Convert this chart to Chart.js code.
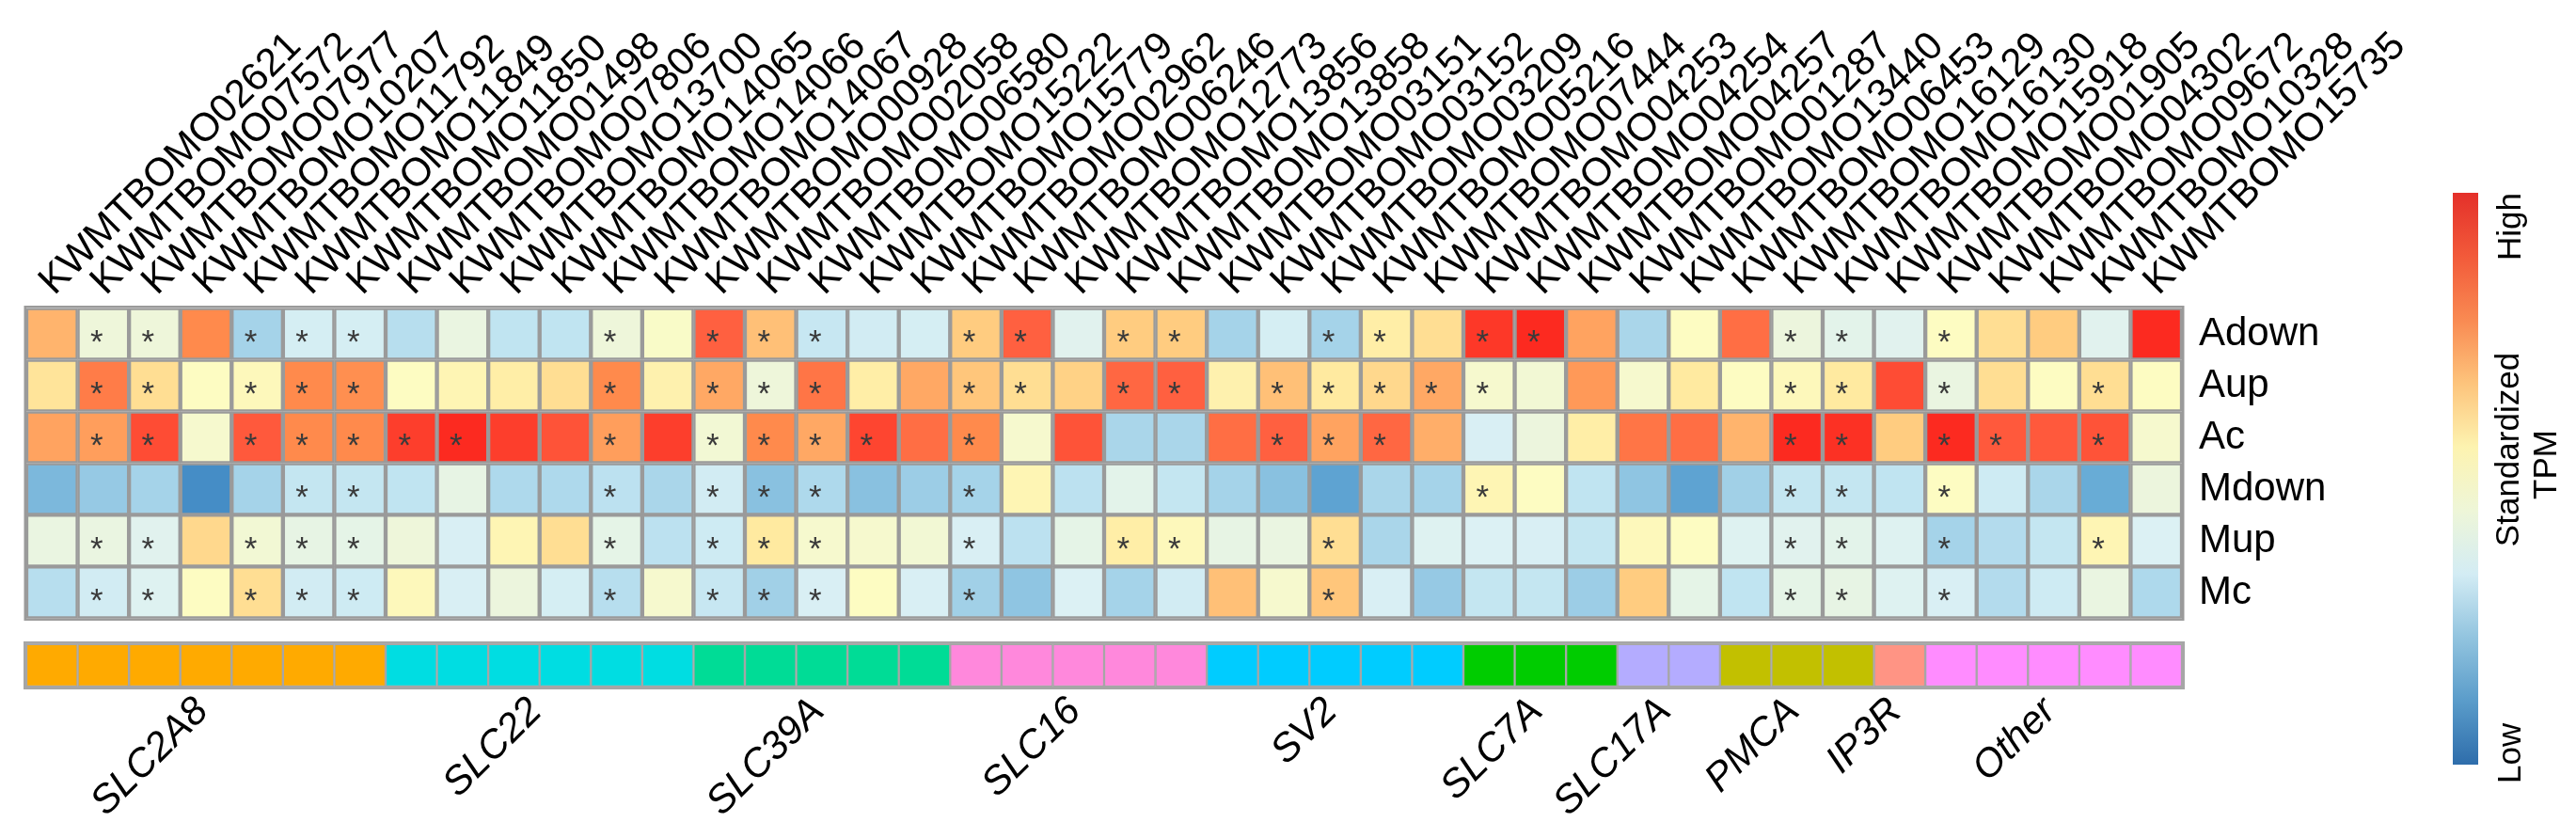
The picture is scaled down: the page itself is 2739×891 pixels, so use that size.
<!DOCTYPE html>
<html>
<head>
<meta charset="utf-8">
<script src="https://cdn.jsdelivr.net/npm/chart.js@4.4.1/dist/chart.umd.min.js"></script>
<style>
  html, body { margin: 0; padding: 0; background: #fff; }
  #wrap { width: 2739px; height: 891px; position: relative; }
</style>
</head>
<body>
<div id="wrap"><canvas id="heat"></canvas></div>
<script>
// gene ids (columns)
const genes = ['02621','07572','07977','10207','11792','11849','11850','01498','07806','13700',
  '14065','14066','14067','00928','02058','06580','15222','15779','02962','06246',
  '12773','13856','13858','03151','03152','03209','05216','07444','04253','04254',
  '04257','01287','13440','06453','16129','16130','15918','01905','04302','09672',
  '10328','15735'].map(n => 'KWMTBOMO' + n);

const rowNames = ['Adown', 'Aup', 'Ac', 'Mdown', 'Mup', 'Mc'];

// standardized TPM
const adown = [0.9,0,0,1.3,-1.1,-0.5,-0.5,-0.9,-0.1,-0.8,-0.8,0,0.15,1.6,0.8,-0.7,-0.55,-0.5,0.7,1.6,
  -0.3,0.7,0.7,-1.1,-0.5,-1.1,0.4,0.55,1.9,2.0,1.05,-1.05,0.2,1.5,-0.05,-0.25,-0.3,0.2,0.55,0.7,-0.3,2.0];
const aup = [0.5,1.4,0.55,0.2,0.25,1.3,1.25,0.2,0.3,0.4,0.55,1.3,0.35,1.0,0,1.45,0.4,1.0,0.75,0.55,
  0.65,1.55,1.6,0.35,0.8,0.45,0.6,1.0,0.1,0.05,1.15,0.1,0.45,0.2,0.25,0.45,1.75,-0.1,0.55,0.2,0.55,0.2];
const ac = [1.05,1.1,1.75,0.1,1.65,1.3,1.3,1.85,2.0,1.85,1.7,1.1,1.85,0.05,1.3,1.0,1.8,1.5,1.3,0.1,
  1.7,-1.05,-1.05,1.5,1.6,1.05,1.55,0.95,-0.45,-0.05,0.4,1.45,1.5,0.9,2.0,1.95,0.7,2.0,1.65,1.65,1.7,0.1];
const mdown = [-1.45,-1.25,-1.1,-1.95,-1.1,-0.75,-0.75,-0.8,-0.15,-1.0,-1.0,-0.85,-1.05,-0.55,-1.35,-1.0,-1.35,-1.2,-1.1,0.3,
  -0.85,-0.25,-0.75,-1.1,-1.35,-1.7,-1.05,-1.1,0.3,0.2,-0.8,-1.3,-1.7,-1.15,-0.75,-0.75,-0.8,0.2,-0.6,-1.05,-1.6,-0.05];
const mup = [-0.1,-0.1,-0.3,0.6,0.05,-0.15,-0.2,0,-0.45,0.3,0.55,-0.2,-0.85,-0.6,0.45,0.1,0.1,0.05,-0.45,-0.85,
  -0.2,0.4,0.25,-0.15,-0.1,0.55,-1.05,-0.35,-0.4,-0.45,-0.75,0.25,0.2,-0.35,-0.3,-0.25,-0.35,-1.1,-0.95,-0.75,0.3,-0.4];
const mc = [-0.9,-0.55,-0.35,0.2,0.55,-0.55,-0.6,0.25,-0.45,-0.05,-0.5,-0.9,0.1,-0.7,-1.15,-0.45,0.2,-0.45,-1.15,-1.3,
  -0.4,-1.1,-0.55,0.8,0.1,0.75,-0.45,-1.25,-0.75,-0.75,-1.2,0.7,-0.2,-0.8,-0.2,-0.15,-0.35,-0.45,-0.95,-0.6,-0.1,-1.0];

// columns (1-based) marked with *
const starAdown = [2,3,5,6,7,12,14,15,16,19,20,22,23,26,27,29,30,35,36,38];
const starAup = [2,3,5,6,7,12,14,15,16,19,20,22,23,25,26,27,28,29,35,36,38,41];
const starAc = [2,3,5,6,7,8,9,12,14,15,16,17,19,25,26,27,35,36,38,39,41];
const starMdown = [6,7,12,14,15,16,19,29,35,36,38];
const starMup = [2,3,5,6,7,12,14,15,16,19,22,23,26,35,36,38,41];
const starMc = [2,3,5,6,7,12,14,15,16,19,26,35,36,38];

const groupNames = ['SLC2A8', 'SLC22', 'SLC39A', 'SLC16', 'SV2', 'SLC7A', 'SLC17A', 'PMCA', 'IP3R', 'Other'];
const groupSizes = [7, 6, 5, 5, 5, 3, 2, 3, 1, 5];
const groupColors = ['#ffaa00', '#00dde2', '#00dc96', '#ff88dc', '#00ccff', '#00cc00', '#b4acff', '#c2c000', '#ff9484', '#ff8cff'];

// colour scale
const stops = [
  [-2.0, '#4089c4'], [-1.6, '#68acd6'], [-1.2, '#9ccde6'], [-0.8, '#c0e4f1'],
  [-0.4, '#dcf1f4'], [0.0, '#eef6da'], [0.2, '#fdfcc2'], [0.45, '#ffeaa0'],
  [0.7, '#ffcc80'], [1.0, '#ffa864'], [1.3, '#ff8a4c'], [1.6, '#ff6040'], [2.0, '#fc2a20']
];
function hexRgb(h) {
  return [parseInt(h.slice(1, 3), 16), parseInt(h.slice(3, 5), 16), parseInt(h.slice(5, 7), 16)];
}
function heatColor(v) {
  if (v <= stops[0][0]) return stops[0][1];
  for (let i = 1; i < stops.length; i++) {
    if (v <= stops[i][0]) {
      const t = (v - stops[i - 1][0]) / (stops[i][0] - stops[i - 1][0]);
      const a = hexRgb(stops[i - 1][1]), b = hexRgb(stops[i][1]);
      const c = a.map((x, k) => Math.round(x + (b[k] - x) * t));
      return 'rgb(' + c.join(',') + ')';
    }
  }
  return stops[stops.length - 1][1];
}

const heatRows = [adown, aup, ac, mdown, mup, mc];
const starRows = [starAdown, starAup, starAc, starMdown, starMup, starMc];

const colGroup = [];
const groupCenters = [];
let start = 0;
groupSizes.forEach((n, g) => {
  for (let i = 0; i < n; i++) colGroup.push(g);
  groupCenters.push(start + (n - 1) / 2);
  start += n;
});

const GAP = 0.5, GROUP_H = 0.82;
const Y_MAX = heatRows.length + GAP + GROUP_H;

const datasets = heatRows.map((vals, r) => ({
  label: rowNames[r],
  data: genes.map(() => 1),
  backgroundColor: vals.map(heatColor),
  borderColor: '#9a9a9a',
  borderWidth: 2.5,
  borderSkipped: false
}));
datasets.push({ label: 'gap', data: genes.map(() => GAP), backgroundColor: 'rgba(0,0,0,0)', borderWidth: 0 });
datasets.push({
  label: 'group',
  data: genes.map(() => GROUP_H),
  backgroundColor: colGroup.map(g => groupColors[g]),
  borderColor: '#a6a6a6',
  borderWidth: 1.5,
  borderSkipped: false
});

const FONT = '"Liberation Sans", Arial, sans-serif';
Chart.defaults.font.family = FONT;
Chart.defaults.color = '#000';

function extent(meta) {
  const d = meta.data;
  const f = d[0], l = d[d.length - 1];
  return {
    left: f.x - f.width / 2, right: l.x + l.width / 2,
    top: Math.min(f.y, f.base), bottom: Math.max(f.y, f.base)
  };
}

const decorPlugin = {
  id: 'decor',
  afterDatasetsDraw(chart) {
    const ctx = chart.ctx;
    ctx.save();
    // outer frames
    const a = extent(chart.getDatasetMeta(0)), b = extent(chart.getDatasetMeta(5));
    ctx.strokeStyle = '#9a9a9a';
    ctx.lineWidth = 2.5;
    ctx.strokeRect(a.left - 1.25, a.top - 1.25, a.right - a.left + 2.5, b.bottom - a.top + 2.5);
    const g = extent(chart.getDatasetMeta(7));
    ctx.strokeStyle = '#a6a6a6';
    ctx.lineWidth = 3;
    ctx.strokeRect(g.left - 1.5, g.top - 1.5, g.right - g.left + 3, g.bottom - g.top + 3);
    // significance marks
    const fs = 35;
    ctx.fillStyle = '#3a3a3a';
    ctx.font = fs + 'px ' + FONT;
    ctx.textAlign = 'center';
    ctx.textBaseline = 'alphabetic';
    starRows.forEach((cols, r) => {
      const meta = chart.getDatasetMeta(r);
      cols.forEach(c => {
        const el = meta.data[c - 1];
        const cy = (el.y + el.base) / 2;
        ctx.fillText('*', el.x - 7, cy + fs * 0.58);
      });
    });
    ctx.restore();
  },
  afterDraw(chart) {
    const ctx = chart.ctx;
    const x = chart.width - 131, w = 27, top = 205, bottom = 813;
    ctx.save();
    const grad = ctx.createLinearGradient(0, bottom, 0, top);
    const cbColors = ['#2e6dab', '#5a9cca', '#92c4df', '#d3ecf4', '#eef6d8', '#fdf3b0', '#fdc47c', '#f98a52', '#f25a3a', '#e4302a'];
    cbColors.forEach((c, i) => grad.addColorStop(i / (cbColors.length - 1), c));
    ctx.fillStyle = grad;
    ctx.fillRect(x, top, w, bottom - top);
    ctx.fillStyle = '#000';
    ctx.font = '35px ' + FONT;
    ctx.textBaseline = 'alphabetic';
    const vtext = (txt, bx, by, align) => {
      ctx.save();
      ctx.translate(bx, by);
      ctx.rotate(-Math.PI / 2);
      ctx.textAlign = align;
      ctx.fillText(txt, 0, 0);
      ctx.restore();
    };
    vtext('High', x + 72, top, 'right');
    vtext('Low', x + 72, bottom + 20, 'left');
    vtext('Standardized', x + 70, 478, 'center');
    vtext('TPM', x + 110, 494, 'center');
    ctx.restore();
  }
};

new Chart(document.getElementById('heat').getContext('2d'), {
  type: 'bar',
  data: { labels: genes, datasets: datasets },
  plugins: [decorPlugin],
  options: {
    responsive: true,
    maintainAspectRatio: false,
    devicePixelRatio: 1,
    animation: false,
    barPercentage: 1,
    categoryPercentage: 1,
    layout: { padding: { left: 28, right: 0, top: 0, bottom: 0 } },
    plugins: { legend: { display: false }, tooltip: { enabled: false } },
    scales: {
      x: {
        position: 'top',
        stacked: true,
        grid: { display: false, drawTicks: false },
        border: { display: false },
        ticks: { font: { size: 42 }, color: '#000', minRotation: 45, maxRotation: 45, autoSkip: false, padding: 3, labelOffset: 30 },
        afterFit(s) { s.height = 327.5; s.paddingLeft = 0; s.paddingRight = 0; }
      },
      x2: {
        type: 'linear',
        position: 'bottom',
        offset: false,
        min: -0.5,
        max: genes.length - 0.5,
        grid: { display: false, drawTicks: false, offset: false },
        border: { display: false },
        afterBuildTicks(s) { s.ticks = groupCenters.map(v => ({ value: v })); },
        ticks: {
          font: { size: 42, style: 'italic' }, color: '#000',
          minRotation: 45, maxRotation: 45, autoSkip: false, padding: 2, labelOffset: -4,
          callback: (v, i) => groupNames[i]
        },
        afterFit(s) { s.height = 161; s.paddingLeft = 0; s.paddingRight = 0; }
      },
      y: {
        position: 'right',
        stacked: true,
        reverse: true,
        min: 0,
        max: Y_MAX,
        grid: { display: false, drawTicks: false },
        border: { display: false },
        afterBuildTicks(s) { s.ticks = rowNames.map((n, i) => ({ value: i + 0.5 })); },
        ticks: { font: { size: 42 }, color: '#000', padding: 18, callback: v => rowNames[Math.floor(v)] },
        afterFit(s) { s.width = 419; s.paddingTop = 0; s.paddingBottom = 0; }
      }
    }
  }
});
</script>
</body>
</html>
